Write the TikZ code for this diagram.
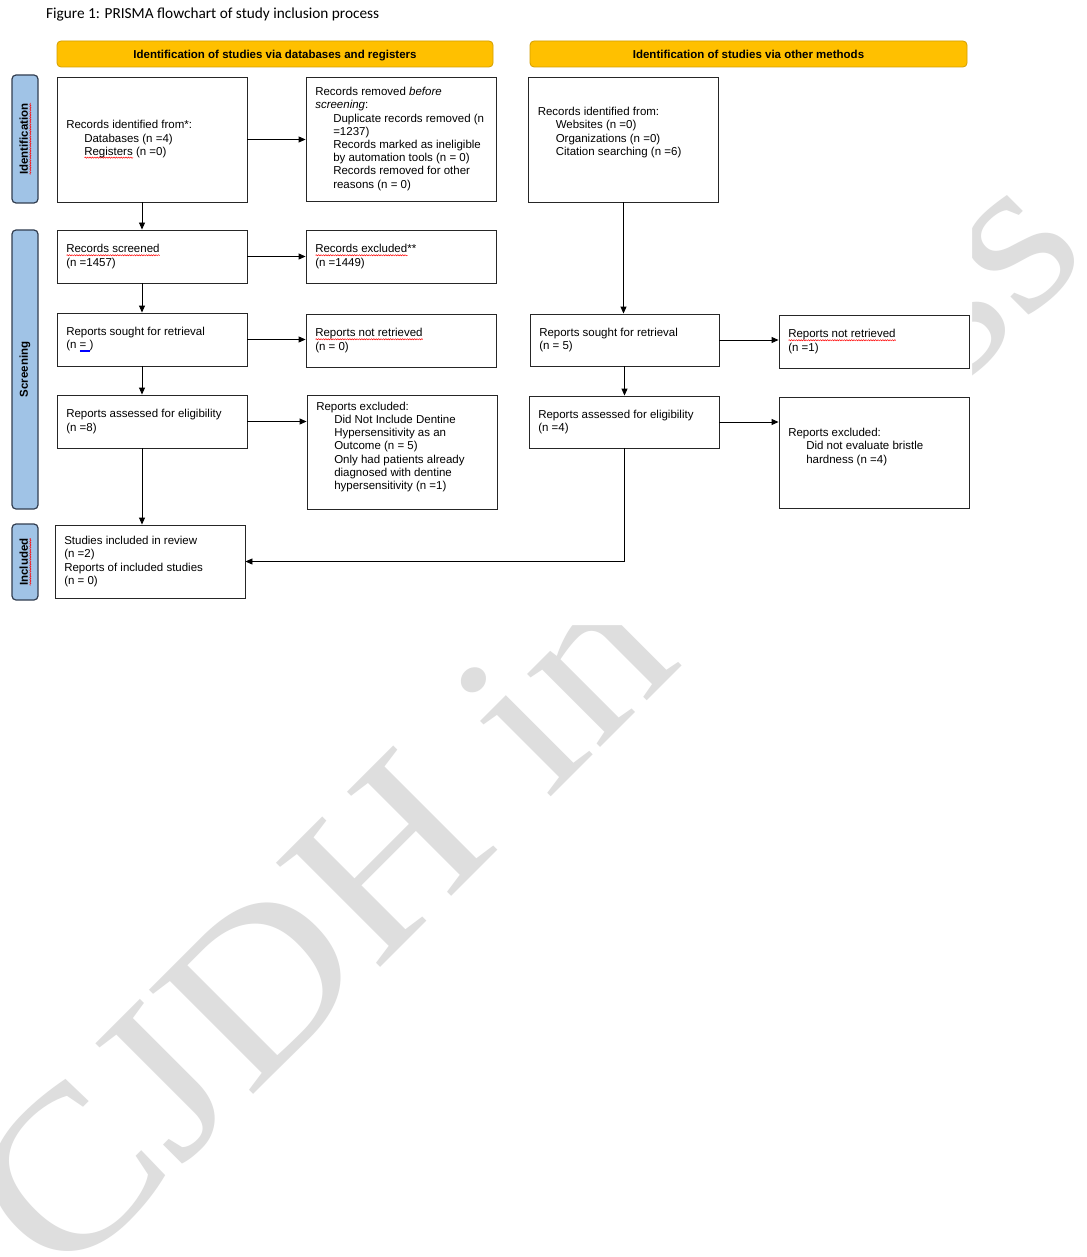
\documentclass[tikz,border=0pt]{standalone}
\usepackage{fontspec}
\setmainfont{Liberation Sans}
\newfontfamily\ttlfont{Carlito}
\newfontfamily\wmfont{Liberation Serif}
\usetikzlibrary{arrows.meta,calc,decorations.pathmorphing}
\definecolor{hdrfill}{RGB}{255,192,0}
\definecolor{hdrdraw}{RGB}{210,158,0}
\definecolor{sidefill}{RGB}{160,195,230}
\definecolor{sidedraw}{RGB}{50,62,80}
\definecolor{wmgray}{RGB}{222,222,222}
\newlength\sqw
\newcommand\redsq[1]{\settowidth\sqw{#1}\makebox[0pt][l]{\tikz[baseline=0pt]\draw[red, sharp corners, line width=0.5pt, decorate, decoration={snake, amplitude=0.6pt, segment length=2.4pt}] (0pt,-2.4pt) -- (\sqw,-2.4pt);}#1}
\newcommand\bluedu[1]{\settowidth\sqw{#1}\makebox[0pt][l]{\tikz[baseline=0pt]\draw[blue, sharp corners, line width=0.45pt] (0pt,-1.6pt) -- (\sqw,-1.6pt) (0pt,-3.0pt) -- (\sqw,-3.0pt);}#1}
\newcommand\ind{\hspace*{18pt}}
\tikzset{
  box/.style={draw=black!85, line width=0.9pt, minimum width=190pt, inner sep=0pt, fill=white},
  txt/.style={anchor=west, align=left, inner sep=0pt, font=\fontsize{11.5}{13.2}\selectfont},
  hdr/.style={draw=hdrdraw, line width=0.8pt, fill=hdrfill, rounded corners=4pt, minimum height=26pt, inner sep=0pt, text height=10.5pt, text depth=2.4pt, font=\bfseries\fontsize{11.5}{13.2}\selectfont},
  side/.style={draw=sidedraw, line width=1.2pt, fill=sidefill, rounded corners=4pt, minimum height=26pt, rotate=90, inner sep=0pt, text height=8.3pt, text depth=2.4pt, font=\bfseries\fontsize{11.5}{13.2}\selectfont},
  arr/.style={draw=black, line width=0.9pt, -{Triangle[length=7pt,width=6pt]}},
}
\begin{document}
\begin{tikzpicture}[x=1pt,y=1pt]
\useasboundingbox (0,0) rectangle (1086,-1257);
\fill[white] (0,0) rectangle (1086,-1257);
% watermark
\begin{scope}
\clip (0,0) rectangle (1086,-1257);
\begin{scope}[shift={(61.5,-1286.5)}, rotate=45, xscale=1.11, transform shape]
\node[anchor=base west, inner sep=0pt, text=wmgray, font=\wmfont\fontsize{225}{225}\selectfont] (wm) at (0,0) {CJDH in press};
\end{scope}
\end{scope}
\fill[white] (0,0) -- (972,0) -- (972,-665) -- (705,-665) -- (705,-625) -- (0,-625) -- cycle;
% title
\node[anchor=base west, inner sep=0pt, font=\ttlfont\fontsize{15.3}{18}\selectfont] (title) at (46,-19) {Figure 1: PRISMA flowchart of study inclusion process};
% headers
\node[hdr, minimum width=436pt] (hA) at (275,-54) {Identification of studies via databases and registers};
\node[hdr, minimum width=437pt] (hB) at (748.5,-54) {Identification of studies via other methods};
% side labels
\node[side, minimum width=128pt] (sI) at (25,-139) {\redsq{Identification}};
\node[side, minimum width=279pt] (sS) at (25,-369.5) {Screening};
\node[side, minimum width=76pt] (sN) at (25,-562) {\redsq{Included}};
% boxes
\node[box, minimum height=125pt] (A) at (152,-139.5) {};
\node[txt] (At) at ([xshift=9.5pt]A.west) {Records identified from*:\\\ind Databases (n =4)\\\ind \redsq{Registers} (n =0)};
\node[box, minimum height=124pt] (B) at (401,-139) {};
\node[txt] (Bt) at ([xshift=9.5pt]B.west) {Records removed \textit{before}\\\textit{screening}:\\\ind Duplicate records removed (n\\\ind =1237)\\\ind Records marked as ineligible\\\ind by automation tools (n = 0)\\\ind Records removed for other\\\ind reasons (n = 0)};
\node[box, minimum height=125pt] (C) at (623.5,-139.5) {};
\node[txt] (Ct) at ([xshift=9.5pt,yshift=7pt]C.west) {Records identified from:\\\ind Websites (n =0)\\\ind Organizations (n =0)\\\ind Citation searching (n =6)};
\node[box, minimum height=53pt] (D) at (152,-256.5) {};
\node[txt] (Dt) at ([xshift=9.5pt]D.west) {\redsq{Records screened}\\(n =1457)};
\node[box, minimum height=53pt] (E) at (401,-256.5) {};
\node[txt] (Et) at ([xshift=9.5pt]E.west) {\redsq{Records excluded}**\\(n =1449)};
\node[box, minimum height=53pt] (F) at (152,-339.5) {};
\node[txt] (Ft) at ([xshift=9.5pt]F.west) {Reports sought for retrieval\\(n \bluedu{=\ })};
\node[box, minimum height=53pt] (G) at (401,-340.5) {};
\node[txt] (Gt) at ([xshift=9.5pt]G.west) {\redsq{Reports not retrieved}\\(n = 0)};
\node[box, minimum height=53pt] (H) at (152,-421.5) {};
\node[txt] (Ht) at ([xshift=9.5pt]H.west) {Reports assessed for eligibility\\(n =8)};
\node[box, minimum height=114pt] (I) at (402,-452) {};
\node[txt] (It) at ([xshift=9.5pt,yshift=5pt]I.west) {Reports excluded:\\\ind Did Not Include Dentine\\\ind Hypersensitivity as an\\\ind Outcome (n = 5)\\\ind Only had patients already\\\ind diagnosed with dentine\\\ind hypersensitivity (n =1)};
\node[box, minimum height=73pt] (J) at (150,-561.5) {};
\node[txt] (Jt) at ([xshift=9.5pt]J.west) {Studies included in review\\(n =2)\\Reports of included studies\\(n = 0)};
\node[box, minimum width=189pt, minimum height=52pt] (K) at (624.5,-340) {};
\node[txt] (Kt) at ([xshift=9.5pt]K.west) {Reports sought for retrieval\\(n = 5)};
\node[box, minimum height=53pt] (L) at (874,-341.5) {};
\node[txt] (Lt) at ([xshift=9.5pt]L.west) {\redsq{Reports not retrieved}\\(n =1)};
\node[box, minimum height=52pt] (M) at (624,-422) {};
\node[txt] (Mt) at ([xshift=9.5pt]M.west) {Reports assessed for eligibility\\(n =4)};
\node[box, minimum height=111pt] (N) at (874,-452.5) {};
\node[txt] (Nt) at ([xshift=9.5pt,yshift=5.5pt]N.west) {Reports excluded:\\\ind Did not evaluate bristle\\\ind hardness (n =4)};
% connectors
\coordinate (lx) at (142,0);
\draw[arr] (A.south -| lx) -- (D.north -| lx);
\draw[arr] (A.east) -- (A.east -| B.west);
\draw[arr] (D.east) -- (D.east -| E.west);
\draw[arr] (D.south -| lx) -- (F.north -| lx);
\draw[arr] (F.east) -- (F.east -| G.west);
\draw[arr] (F.south -| lx) -- (H.north -| lx);
\draw[arr] (H.east) -- (H.east -| I.west);
\draw[arr] (H.south -| lx) -- (J.north -| lx);
\draw[arr] (C.south) -- (C.south |- K.north);
\draw[arr] (K.east) -- (K.east -| L.west);
\draw[arr] (K.south) -- (K.south |- M.north);
\draw[arr] (M.east) -- (M.east -| N.west);
\draw[arr] (M.south) |- (J.east);
\end{tikzpicture}
\end{document}
